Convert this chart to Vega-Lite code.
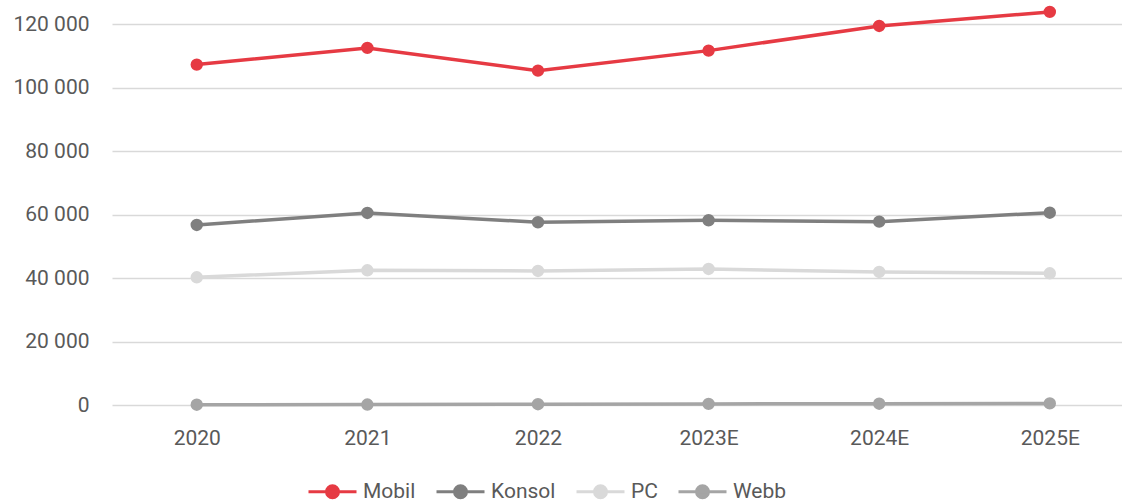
{
  "$schema": "https://vega.github.io/schema/vega-lite/v6.json",
  "autosize": {"type": "none"},
  "padding": {"left": 112, "top": 2, "right": 0, "bottom": 98},
  "width": 1010,
  "height": 403,
  "config": {
    "locale": {"number": {"decimal": ",", "thousands": " ", "grouping": [3], "currency": ["", " kr"]}},
    "font": "Roboto",
    "view": {"stroke": null},
    "axis": {"labelFont": "Roboto", "labelFontSize": 21, "labelColor": "#595959", "domain": false, "ticks": false, "title": null}
  },
  "data": {"values": [
    {"year": "2020", "series": "Mobil", "value": 107270},
    {"year": "2021", "series": "Mobil", "value": 112530},
    {"year": "2022", "series": "Mobil", "value": 105370},
    {"year": "2023E", "series": "Mobil", "value": 111680},
    {"year": "2024E", "series": "Mobil", "value": 119460},
    {"year": "2025E", "series": "Mobil", "value": 123880},
    {"year": "2020", "series": "Konsol", "value": 56740},
    {"year": "2021", "series": "Konsol", "value": 60520},
    {"year": "2022", "series": "Konsol", "value": 57590},
    {"year": "2023E", "series": "Konsol", "value": 58220},
    {"year": "2024E", "series": "Konsol", "value": 57780},
    {"year": "2025E", "series": "Konsol", "value": 60610},
    {"year": "2020", "series": "PC", "value": 40250},
    {"year": "2021", "series": "PC", "value": 42460},
    {"year": "2022", "series": "PC", "value": 42240},
    {"year": "2023E", "series": "PC", "value": 42870},
    {"year": "2024E", "series": "PC", "value": 41920},
    {"year": "2025E", "series": "PC", "value": 41510},
    {"year": "2020", "series": "Webb", "value": 100},
    {"year": "2021", "series": "Webb", "value": 150},
    {"year": "2022", "series": "Webb", "value": 250},
    {"year": "2023E", "series": "Webb", "value": 350},
    {"year": "2024E", "series": "Webb", "value": 400},
    {"year": "2025E", "series": "Webb", "value": 500}
  ]},
  "encoding": {
    "x": {"field": "year", "type": "ordinal", "sort": null,
          "scale": {"type": "point", "padding": 0.46, "align": 0.54},
          "axis": {"labelAngle": 0, "labelPadding": 22, "grid": false}},
    "y": {"field": "value", "type": "quantitative",
          "scale": {"domain": [0, 127000], "nice": false, "zero": true},
          "axis": {"values": [0, 20000, 40000, 60000, 80000, 100000, 120000], "format": ",d", "labelPadding": 23, "grid": true, "gridColor": "#d9d9d9", "gridWidth": 1.5}},
    "color": {"field": "series", "type": "nominal",
              "scale": {"domain": ["Mobil", "Konsol", "PC", "Webb"], "range": ["#e63a43", "#7f7f7f", "#d9d9d9", "#a5a5a5"]},
              "legend": {"orient": "none", "legendX": 195, "legendY": 464, "direction": "horizontal", "title": null,
                         "symbolType": "M-1,0L1,0M0.25,0A0.25,0.25,0,1,1,-0.25,0A0.25,0.25,0,1,1,0.25,0Z",
                         "symbolSize": 2304, "symbolStrokeWidth": 3, "labelFontSize": 21, "labelColor": "#595959", "labelFont": "Roboto", "labelOffset": 5, "columnPadding": 14,
                         "encode": {"symbols": {"update": {"fill": {"scale": "color", "field": "value"}, "stroke": {"scale": "color", "field": "value"}}}}}}
  },
  "layer": [
    {"mark": {"type": "line", "strokeWidth": 3.5}},
    {"mark": {"type": "point", "filled": true, "size": 154, "opacity": 1}}
  ]
}
